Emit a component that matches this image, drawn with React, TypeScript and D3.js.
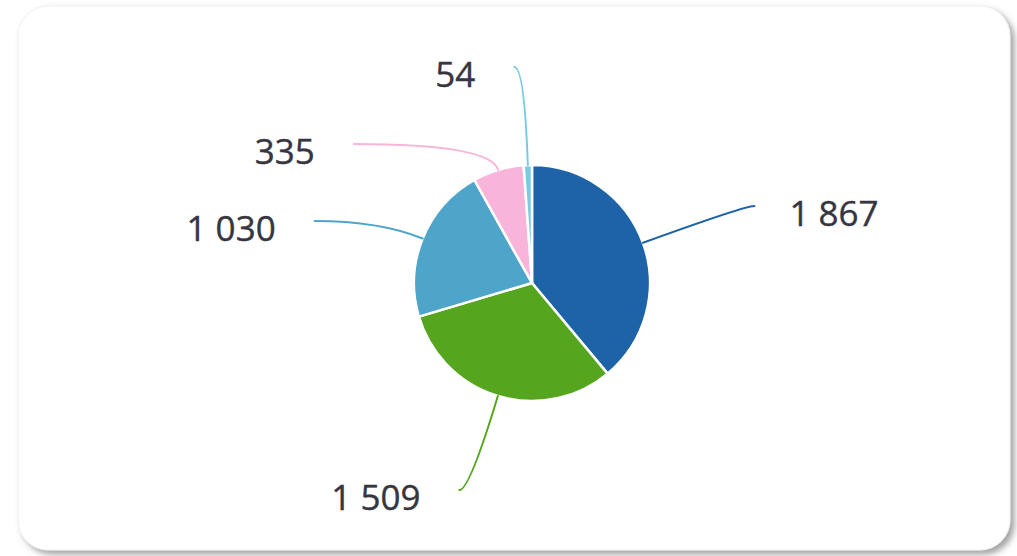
import React from "react";
import * as d3 from "d3";

const categories = ["A", "B", "C", "D", "E"];
const values = [1867, 1509, 1030, 335, 54];
const labels = ["1 867", "1 509", "1 030", "335", "54"];
const colors = ["#1e63a7", "#55a61e", "#4ea4c9", "#f8b4d9", "#78cbe3"];

const W = 1017;
const H = 556;
const cx = 532;
const cy = 283;
const radius = 118;
const labelR = 226;
const minGap = 77;
const plotTop = 50;
const plotBottom = 507;
const labelHalf = 17;
const leadIn = 10;

type Lab = { i: number; mid: number; x: number; y: number; right: boolean };

export default function App() {
  const data = categories.map((c, i) => ({ c, v: values[i], i }));
  const pie = d3.pie<any>().value((d: any) => d.v).sort(null);
  const arcs = pie(data);
  const arcGen = d3.arc<any>().innerRadius(0).outerRadius(radius);

  const labs: Lab[] = arcs.map((a, i) => {
    const mid = (a.startAngle + a.endAngle) / 2;
    return {
      i,
      mid,
      x: cx + labelR * Math.sin(mid),
      y: cy - labelR * Math.cos(mid),
      right: Math.sin(mid) >= 0,
    };
  });

  // resolve overlaps per side, pushing downward, and keep labels in the plot box
  [true, false].forEach((side) => {
    const group = labs.filter((l) => l.right === side).sort((a, b) => a.y - b.y);
    let prev = -Infinity;
    group.forEach((l) => {
      let y = Math.min(Math.max(l.y, plotTop + labelHalf), plotBottom - labelHalf);
      if (y < prev + minGap) {
        y = prev + minGap;
        const dy = y - cy;
        const dx = Math.sqrt(Math.max(0, labelR * labelR - dy * dy));
        l.x = side ? cx + dx : cx - dx;
      }
      l.y = y;
      prev = y;
    });
  });

  const conns = labs.map((l) => {
    const sgn = l.right ? 1 : -1;
    const s = Math.sin(l.mid);
    const c = Math.cos(l.mid);
    const p0x = cx + radius * s;
    const p0y = cy - radius * c;
    // control point: where the radial line meets the label's horizontal
    let t = Math.abs(c) > 0.05 ? (cy - l.y) / c : labelR;
    if (t < radius) t = radius;
    const ctrlX = cx + t * s;
    const ctrlY = cy - t * c;
    let ex = l.x;
    if (sgn < 0) ex = Math.min(ex, ctrlX - leadIn);
    else ex = Math.max(ex, ctrlX + leadIn);
    const path = d3.path();
    path.moveTo(p0x, p0y);
    path.quadraticCurveTo(ctrlX, ctrlY, ex, l.y);
    return { i: l.i, d: path.toString(), ex, ey: l.y, right: l.right };
  });

  return (
    <svg
      width={W}
      height={H}
      style={{ position: "absolute", left: 0, top: 0, display: "block" }}
    >
      <defs>
        <filter id="shadow" x="-5%" y="-5%" width="110%" height="115%">
          <feDropShadow dx="4" dy="4" stdDeviation="3" floodColor="#555" floodOpacity="0.55" />
        </filter>
      </defs>
      <rect x={0} y={0} width={W} height={H} fill="#ffffff" />
      <rect
        x={18}
        y={6}
        width={992}
        height={544}
        rx={30}
        ry={30}
        fill="#ffffff"
        stroke="#f0f0f0"
        strokeWidth={1}
        filter="url(#shadow)"
      />
      <g>
        {arcs.map((a, i) => (
          <path
            key={i}
            d={arcGen(a) || ""}
            transform={`translate(${cx},${cy})`}
            fill={colors[i]}
            stroke="#ffffff"
            strokeWidth={2.5}
            strokeLinejoin="round"
          />
        ))}
      </g>
      <g fill="none">
        {conns.map((c) => (
          <path
            key={c.i}
            d={c.d}
            stroke={colors[c.i]}
            strokeWidth={2}
            strokeLinecap="round"
          />
        ))}
      </g>
      <g
        fontFamily="'Open Sans', 'Noto Sans', sans-serif"
        fontSize={35}
        fill="#363640"
        stroke="#363640"
        strokeWidth={0.4}
      >
        {conns.map((c) => (
          <text
            key={c.i}
            x={c.right ? c.ex + 35 : c.ex - 39}
            y={c.ey + 20}
            textAnchor={c.right ? "start" : "end"}
          >
            {labels[c.i]}
          </text>
        ))}
      </g>
    </svg>
  );
}
